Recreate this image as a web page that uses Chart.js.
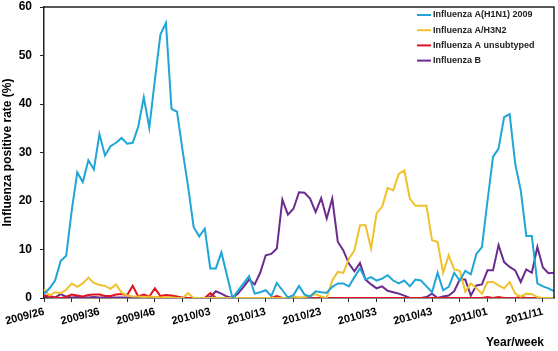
<!DOCTYPE html>
<html>
<head>
<meta charset="utf-8">
<script src="https://cdn.jsdelivr.net/npm/chart.js@4.4.0/dist/chart.umd.min.js"></script>
<style>
  html, body { margin: 0; padding: 0; background: #fff; }
</style>
</head>
<body>
<canvas id="fluChart" width="558" height="351"></canvas>
<script>
// Year/week categories (2009 has 53 ISO weeks)
const weeks = [
  "2009/26","2009/27","2009/28","2009/29","2009/30","2009/31","2009/32","2009/33","2009/34","2009/35",
  "2009/36","2009/37","2009/38","2009/39","2009/40","2009/41","2009/42","2009/43","2009/44","2009/45",
  "2009/46","2009/47","2009/48","2009/49","2009/50","2009/51","2009/52","2009/53","2010/01","2010/02",
  "2010/03","2010/04","2010/05","2010/06","2010/07","2010/08","2010/09","2010/10","2010/11","2010/12",
  "2010/13","2010/14","2010/15","2010/16","2010/17","2010/18","2010/19","2010/20","2010/21","2010/22",
  "2010/23","2010/24","2010/25","2010/26","2010/27","2010/28","2010/29","2010/30","2010/31","2010/32",
  "2010/33","2010/34","2010/35","2010/36","2010/37","2010/38","2010/39","2010/40","2010/41","2010/42",
  "2010/43","2010/44","2010/45","2010/46","2010/47","2010/48","2010/49","2010/50","2010/51","2010/52",
  "2011/01","2011/02","2011/03","2011/04","2011/05","2011/06","2011/07","2011/08","2011/09","2011/10",
  "2011/11","2011/12","2011/13"
];

// Positive rates (%) per week
const h1n1 = [
  0.8, 2.0, 3.6, 7.6, 8.7, 18.0, 25.9, 23.9, 28.4, 26.5,
  33.8, 29.4, 31.3, 32.0, 33.0, 31.8, 32.0, 35.3, 41.4, 35.1,
  45.0, 54.3, 56.7, 39.0, 38.4, 30.4, 22.9, 14.6, 12.7, 14.3,
  6.1, 6.1, 9.4, 4.7, 0.0, 1.5, 3.0, 4.5, 0.9, 1.2,
  1.6, 0.4, 3.1, 1.6, 0.1, 0.6, 2.5, 0.7, 0.3, 1.4,
  1.2, 1.1, 2.3, 3.0, 3.0, 2.4, 4.3, 6.1, 3.8, 4.3,
  3.6, 4.0, 4.7, 3.6, 3.0, 3.6, 2.4, 3.8, 3.6, 2.4,
  1.2, 5.2, 1.6, 2.3, 5.2, 3.6, 5.6, 4.9, 9.1, 10.5,
  20.0, 29.1, 30.8, 37.3, 37.9, 27.7, 22.2, 12.8, 12.8, 3.0,
  2.4, 2.0, 1.4
];
const h3n2 = [
  1.8, 0.5, 1.2, 1.0, 1.7, 3.0, 2.3, 3.0, 4.2, 3.1,
  2.7, 2.5, 1.9, 2.8, 1.1, 0.5, 0.3, 0.3, 0.2, 0.3,
  0.2, 0.1, 0.2, 0.1, 0.0, 0.0, 1.0, 0.0, 0.0, 0.0,
  0.0, 0.0, 0.0, 0.0, 0.0, 0.0, 0.0, 0.0, 0.0, 0.0,
  0.0, 0.0, 0.0, 0.0, 0.0, 0.3, 0.1, 0.2, 0.4, 0.8,
  0.3, 0.0, 3.6, 5.4, 5.2, 8.1, 9.8, 15.0, 15.0, 10.2,
  17.5, 18.8, 22.7, 22.2, 25.6, 26.3, 20.5, 19.0, 19.0, 19.0,
  11.9, 11.6, 5.2, 8.8, 5.9, 5.6, 1.3, 3.0, 2.0, 0.9,
  3.3, 3.3, 2.6, 2.0, 3.3, 0.9, 0.3, 0.9, 0.8, 0.2,
  0.0, 0.0, 0.0
];
const unsubtyped = [
  0.5, 0.4, 0.1, 0.0, 0.2, 0.7, 0.5, 0.3, 0.6, 0.7,
  0.7, 0.4, 0.4, 0.7, 0.8, 0.6, 2.5, 0.3, 0.7, 0.3,
  2.0, 0.4, 0.6, 0.5, 0.3, 0.0, 0.0, 0.0, 0.0, 0.0,
  1.0, 0.0, 0.0, 0.0, 0.0, 0.0, 0.0, 0.0, 0.0, 0.0,
  0.0, 0.0, 0.4, 0.0, 0.0, 0.0, 0.0, 0.0, 0.0, 0.0,
  0.0, 0.0, 0.0, 0.0, 0.0, 0.0, 0.0, 0.0, 0.0, 0.0,
  0.0, 0.0, 0.0, 0.0, 0.0, 0.0, 0.0, 0.0, 0.0, 0.0,
  0.0, 0.0, 0.0, 0.0, 0.0, 0.0, 0.0, 0.0, 0.0, 0.0,
  0.2, 0.0, 0.2, 0.0, 0.0, 0.0, 0.2, 0.0, 0.0, 0.0,
  0.0, 0.0, 0.0
];
const fluB = [
  0.3, 0.2, 0.1, 0.8, 0.3, 0.1, 0.2, 0.1, 0.1, 0.2,
  0.1, 0.1, 0.1, 0.1, 0.1, 0.1, 0.1, 0.1, 0.1, 0.1,
  0.1, 0.1, 0.1, 0.1, 0.1, 0.1, 0.0, 0.0, 0.0, 0.0,
  0.2, 1.4, 0.9, 0.3, 0.0, 0.9, 2.3, 3.8, 2.8, 5.2,
  8.8, 9.1, 10.2, 20.3, 17.2, 18.4, 21.8, 21.7, 20.5, 17.7,
  20.6, 16.4, 20.5, 11.6, 9.8, 7.1, 5.5, 7.2, 3.8, 2.8,
  2.0, 2.4, 1.5, 1.2, 0.9, 0.5, 0.0, 0.0, 0.0, 0.2,
  0.9, 0.0, 0.3, 0.5, 1.4, 3.8, 3.8, 0.5, 2.6, 2.8,
  5.7, 5.7, 10.9, 7.4, 6.4, 5.7, 3.3, 5.9, 5.2, 10.5,
  6.3, 5.1, 5.2
];

const FONT = '"Liberation Sans", Arial, sans-serif';

// Legend drawn inside the plot, top right
const insideLegend = {
  id: "insideLegend",
  afterDatasetsDraw(chart) {
    const ctx = chart.ctx;
    const x0 = chart.chartArea.right - 137;
    ctx.save();
    ctx.font = "bold 9px " + FONT;
    ctx.textBaseline = "middle";
    chart.data.datasets.forEach((ds, i) => {
      const y = chart.chartArea.top + 8 + i * 15.2;
      ctx.strokeStyle = ds.borderColor;
      ctx.lineWidth = 2;
      ctx.beginPath();
      ctx.moveTo(x0, y);
      ctx.lineTo(x0 + 14, y);
      ctx.stroke();
      ctx.fillStyle = "#222";
      ctx.fillText(ds.label, x0 + 16, y);
    });
    ctx.restore();
  }
};

// Top and right edges of the plot frame
const frame = {
  id: "frame",
  afterDraw(chart) {
    const a = chart.chartArea;
    const ctx = chart.ctx;
    ctx.save();
    ctx.strokeStyle = "#222";
    ctx.lineWidth = 1.5;
    ctx.beginPath();
    ctx.moveTo(a.left, a.top);
    ctx.lineTo(a.right, a.top);
    ctx.lineTo(a.right, a.bottom);
    ctx.stroke();
    ctx.restore();
  }
};

new Chart(document.getElementById("fluChart"), {
  type: "line",
  data: {
    labels: weeks,
    datasets: [
      { label: "Influenza A(H1N1) 2009", data: h1n1, borderColor: "#1fa5d6" },
      { label: "Influenza A/H3N2", data: h3n2, borderColor: "#f0c12c" },
      { label: "Influenza A unsubtyped", data: unsubtyped, borderColor: "#e2141f" },
      { label: "Influenza B", data: fluB, borderColor: "#6a2c8e" }
    ]
  },
  options: {
    responsive: false,
    animation: false,
    layout: { padding: { top: 7, right: 4, left: 0, bottom: 0 } },
    elements: {
      point: { radius: 0 },
      line: { borderWidth: 2, tension: 0 }
    },
    plugins: {
      legend: { display: false },
      tooltip: { enabled: false }
    },
    scales: {
      x: {
        grid: {
          drawOnChartArea: false,
          tickLength: 4,
          tickColor: ctx => (ctx.index % 5 === 0 ? "#222" : "rgba(0,0,0,0)")
        },
        border: { color: "#222", width: 1.5 },
        ticks: {
          autoSkip: false,
          minRotation: 15,
          maxRotation: 15,
          padding: 3,
          color: "#000",
          font: { family: FONT, size: 11, weight: "bold" },
          callback: (v, i) => (i % 10 === 0 ? weeks[i] : "")
        },
        title: {
          display: true,
          text: "Year/week   ",
          align: "end",
          color: "#000",
          padding: { top: 0, bottom: 1 },
          font: { family: FONT, size: 12, weight: "bold" }
        },
        afterFit: s => {
          s.height = 53;
          s.paddingLeft = 0;
          s.paddingRight = 0;
        }
      },
      y: {
        min: 0,
        max: 60,
        grid: { drawOnChartArea: false, tickLength: 4, tickColor: "#222" },
        border: { color: "#222", width: 1.5 },
        ticks: {
          stepSize: 10,
          padding: 8,
          color: "#000",
          font: { family: FONT, size: 12, weight: "bold" }
        },
        title: {
          display: true,
          text: "Influenza positive rate (%)",
          color: "#000",
          padding: 0,
          font: { family: FONT, size: 12, weight: "bold" }
        },
        afterFit: s => {
          s.width = 44;
          s.paddingTop = 0;
          s.paddingBottom = 0;
        }
      }
    }
  },
  plugins: [insideLegend, frame]
});
</script>
</body>
</html>
